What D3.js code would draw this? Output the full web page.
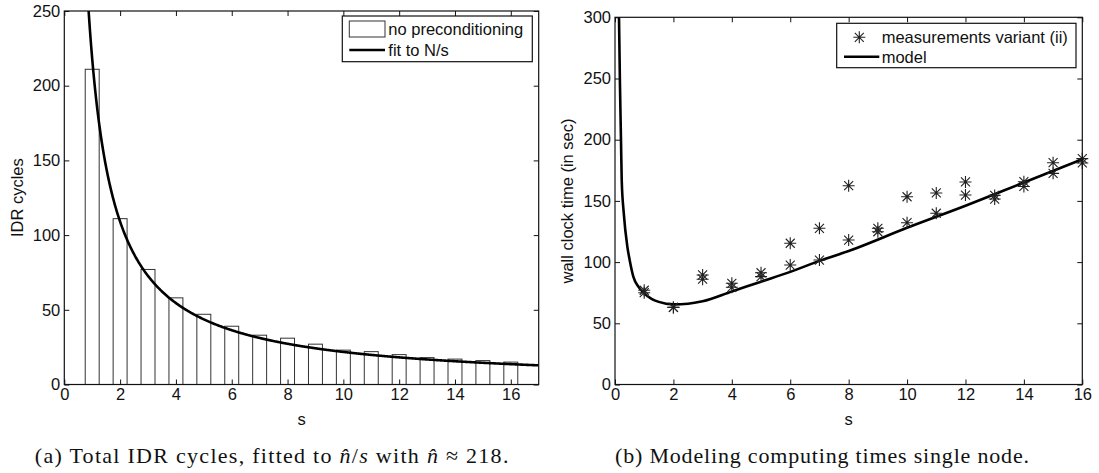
<!DOCTYPE html>
<html>
<head>
<meta charset="utf-8">
<script src="https://d3js.org/d3.v7.min.js"></script>
<style>
  body { margin: 0; background: #fff; }
  svg { font-family: "Liberation Sans", Arial, Helvetica, sans-serif; }
  .tick line { stroke: #111; }
  .tick text { font-size: 16.5px; fill: #111; }
  .frame { fill: none; stroke: #111; stroke-width: 1.2; }
  .bar { fill: #fff; stroke: #333; stroke-width: 1; }
  .fit { fill: none; stroke: #000; stroke-width: 2.6; }
  .star { stroke: #222; stroke-width: 1.1; fill: none; }
  .lab { font-size: 16.5px; fill: #111; }
  .cap { font-family: "Liberation Serif", "Times New Roman", serif; font-size: 22px; fill: #111; }
</style>
</head>
<body>
<div id="chart"></div>
<script>
// left panel: IDR cycles per s (bars) and the N/s fit
var barS = [1, 2, 3, 4, 5, 6, 7, 8, 9, 10, 11, 12, 13, 14, 15, 16];
var barCycles = [211, 111, 77, 58, 47, 39, 33, 31, 27, 23, 22, 20, 18, 17, 16, 15];
var fitN = 218;

// right panel: measured wall clock times and the model curve
var measS = [1, 1, 2, 2, 3, 3, 4, 4, 5, 5, 6, 6, 7, 7, 8, 8,
             9, 9, 10, 10, 11, 11, 12, 12, 13, 13, 14, 14, 15, 15, 16, 16];
var measT = [77, 75, 63, 63, 89.5, 86, 82.7, 79.4, 91.3, 88.1, 115.4, 97.6, 127.6, 101.7, 162.4, 118,
             127.6, 124.8, 153.4, 132.2, 156.5, 139.9, 165.5, 154.8, 154.5, 151.5, 165.7, 161.8, 181.2, 172.5, 184.5, 181];
var modelS = [0.12, 0.137, 0.17, 0.205, 0.23, 0.3, 0.42, 0.5, 0.63, 0.8, 1, 1.25, 1.5, 2, 2.5, 3,
              4, 5, 6, 7, 8, 10, 12, 14, 16];
var modelT = [335, 300, 245, 200, 167, 140, 113, 102, 88, 80, 74.5, 70, 67.5, 65.5, 66, 68,
              76, 84, 92, 101, 109, 128, 146, 165, 184];

var leftTicksX = [0, 2, 4, 6, 8, 10, 12, 14, 16];
var leftTicksY = [0, 50, 100, 150, 200, 250];
var rightTicksX = [0, 2, 4, 6, 8, 10, 12, 14, 16];
var rightTicksY = [0, 50, 100, 150, 200, 250, 300];

var svg = d3.select("#chart").append("svg")
    .attr("width", 1099)
    .attr("height", 473);

function frame(g, x, y, tx, ty) {
  var x0 = x.range()[0], x1 = x.range()[1], y0 = y.range()[0], y1 = y.range()[1];
  g.append("g").attr("transform", "translate(0," + y0 + ")")
    .call(d3.axisBottom(x).tickValues(tx).tickSizeInner(-5).tickSizeOuter(0).tickPadding(4))
    .call(function(a){ a.select(".domain").remove(); });
  g.append("g").attr("transform", "translate(0," + y1 + ")")
    .call(d3.axisTop(x).tickValues(tx).tickSizeInner(-5).tickSizeOuter(0).tickFormat(""))
    .call(function(a){ a.select(".domain").remove(); });
  g.append("g").attr("transform", "translate(" + x0 + ",0)")
    .call(d3.axisLeft(y).tickValues(ty).tickSizeInner(-5).tickSizeOuter(0).tickPadding(4))
    .call(function(a){ a.select(".domain").remove(); });
  g.append("g").attr("transform", "translate(" + x1 + ",0)")
    .call(d3.axisRight(y).tickValues(ty).tickSizeInner(-5).tickSizeOuter(0).tickFormat(""))
    .call(function(a){ a.select(".domain").remove(); });
  g.append("rect").attr("class", "frame")
    .attr("x", x0).attr("y", y1).attr("width", x1 - x0).attr("height", y0 - y1);
}

function star(sel, r) {
  var d = r * 0.75;
  sel.append("path").attr("class", "star")
    .attr("d", "M" + (-r) + ",0H" + r + "M0," + (-r) + "V" + r +
               "M" + (-d) + "," + (-d) + "L" + d + "," + d +
               "M" + (-d) + "," + d + "L" + d + "," + (-d));
}

// ---------- left panel ----------
var xL = d3.scaleLinear().domain([0, 17]).range([64.3, 538.7]);
var yL = d3.scaleLinear().domain([0, 250]).range([384.5, 11]);
var gL = svg.append("g");

svg.append("clipPath").attr("id", "clipL").append("rect")
  .attr("x", 64.3).attr("y", 11).attr("width", 538.7 - 64.3).attr("height", 384.5 - 11);
svg.append("clipPath").attr("id", "clipR").append("rect")
  .attr("x", 615).attr("y", 17.3).attr("width", 1082.3 - 615).attr("height", 384.5 - 17.3);

var bw = 0.5;
gL.selectAll(".bar").data(barS).enter().append("rect")
  .attr("class", "bar")
  .attr("x", function(d){ return xL(d - bw / 2); })
  .attr("width", xL(bw) - xL(0))
  .attr("y", function(d, i){ return yL(barCycles[i]); })
  .attr("height", function(d, i){ return yL(0) - yL(barCycles[i]); });

var fitS = d3.range(0.84, 17.001, 0.02);
gL.append("path").attr("class", "fit").attr("clip-path", "url(#clipL)")
  .attr("d", d3.line().x(function(d){ return xL(d); }).y(function(d){ return yL(fitN / d); })(fitS));

frame(gL, xL, yL, leftTicksX, leftTicksY);

gL.append("text").attr("class", "lab").attr("text-anchor", "middle")
  .attr("transform", "translate(23,197.7) rotate(-90)").text("IDR cycles");
gL.append("text").attr("class", "lab").attr("text-anchor", "middle")
  .attr("x", xL(8.5)).attr("y", 425).text("s");

// legend left
var lgL = gL.append("g");
lgL.append("rect").attr("x", 342.3).attr("y", 16).attr("width", 190).attr("height", 45.7)
  .attr("fill", "#fff").attr("stroke", "#111").attr("stroke-width", 1.2);
lgL.append("rect").attr("class", "bar").attr("x", 349.3).attr("y", 21).attr("width", 35.7).attr("height", 16);
lgL.append("text").attr("class", "lab").attr("x", 388.3).attr("y", 35).text("no preconditioning");
lgL.append("line").attr("x1", 349.3).attr("x2", 385).attr("y1", 50).attr("y2", 50)
  .attr("stroke", "#000").attr("stroke-width", 2.6);
lgL.append("text").attr("class", "lab").attr("x", 388.3).attr("y", 56).text("fit to N/s");

// ---------- right panel ----------
var xR = d3.scaleLinear().domain([0, 16]).range([615, 1082.3]);
var yR = d3.scaleLinear().domain([0, 300]).range([384.5, 17.3]);
var gR = svg.append("g");

gR.append("path").attr("class", "fit").attr("clip-path", "url(#clipR)")
  .attr("d", d3.line().curve(d3.curveMonotoneX)
    .x(function(d){ return xR(d); })
    .y(function(d, i){ return yR(modelT[i]); })(modelS));

gR.selectAll(".pt").data(measS).enter().append("g")
  .attr("class", "pt")
  .attr("transform", function(d, i){ return "translate(" + xR(d) + "," + yR(measT[i]) + ")"; })
  .call(star, 6);

frame(gR, xR, yR, rightTicksX, rightTicksY);

gR.append("text").attr("class", "lab").attr("text-anchor", "middle")
  .attr("transform", "translate(573,201) rotate(-90)").text("wall clock time (in sec)");
gR.append("text").attr("class", "lab").attr("text-anchor", "middle")
  .attr("x", xR(8)).attr("y", 425).text("s");

var lgR = gR.append("g");
lgR.append("rect").attr("x", 836.7).attr("y", 23.3).attr("width", 239.3).attr("height", 44.4)
  .attr("fill", "#fff").attr("stroke", "#111").attr("stroke-width", 1.2);
lgR.append("g").attr("transform", "translate(859.3,37.3)").call(star, 6);
lgR.append("text").attr("class", "lab").attr("x", 881.7).attr("y", 43).text("measurements variant (ii)");
lgR.append("line").attr("x1", 844).attr("x2", 879.3).attr("y1", 56.7).attr("y2", 56.7)
  .attr("stroke", "#000").attr("stroke-width", 2.6);
lgR.append("text").attr("class", "lab").attr("x", 881.7).attr("y", 62.5).text("model");

// ---------- captions ----------
var capA = svg.append("text").attr("class", "cap")
  .attr("x", 34.8).attr("y", 463).attr("textLength", 473.6).attr("lengthAdjust", "spacing");
capA.append("tspan").text("(a)  Total IDR cycles, fitted to ");
capA.append("tspan").attr("font-style", "italic").text("n\u0302");
capA.append("tspan").text("/");
capA.append("tspan").attr("font-style", "italic").text("s");
capA.append("tspan").text(" with ");
capA.append("tspan").attr("font-style", "italic").text("n\u0302");
capA.append("tspan").text(" \u2248 218.");

svg.append("text").attr("class", "cap")
  .attr("x", 615).attr("y", 463).attr("textLength", 414).attr("lengthAdjust", "spacing")
  .text("(b)  Modeling computing times single node.");
</script>
</body>
</html>
